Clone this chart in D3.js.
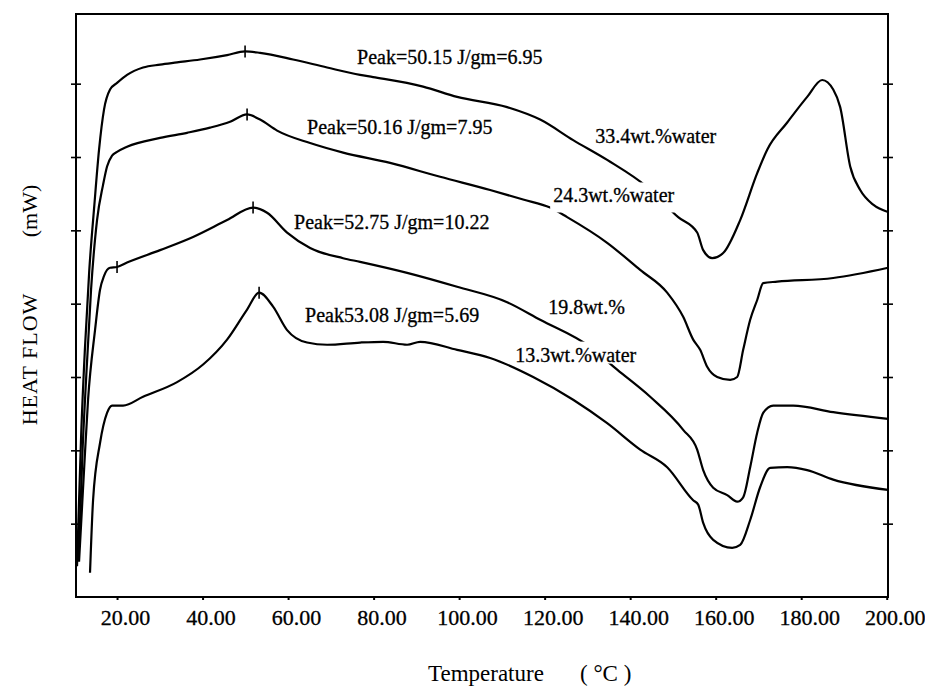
<!DOCTYPE html>
<html>
<head>
<meta charset="utf-8">
<script src="https://cdn.jsdelivr.net/npm/d3@7"></script>
<style>
  body { margin: 0; background: #fff; }
  text { font-family: "Liberation Serif", "Times New Roman", serif; fill: #000; }
</style>
</head>
<body>
<div id="chart"></div>
<script>
// DSC traces (heat flow in tick units, arbitrary)
var t33 = [10.64, 11.0, 11.6, 12.5, 13.5, 14.7, 15.79, 16.96, 18.36, 20.0, 22.34, 26.08, 30.06, 34.04, 39.42, 45.73, 49.94, 53.45, 61.17, 69.12, 76.84, 79.88, 91.58, 99.53, 111.23, 118.95, 126.67, 134.62, 143.98, 151.23, 155.67, 157.08, 159.18, 161.75, 165.73, 169.71, 172.05, 176.73, 181.40, 184.91, 187.49, 189.12, 191.46, 193.80, 196.84, 200.3];
var hf33 = [0.42, 1.10, 2.20, 3.40, 4.45, 5.35, 6.10, 6.65, 6.92, 7.01, 7.12, 7.22, 7.26, 7.29, 7.33, 7.39, 7.44, 7.42, 7.33, 7.22, 7.12, 7.09, 6.96, 6.82, 6.68, 6.51, 6.23, 5.96, 5.59, 5.18, 4.97, 4.73, 4.62, 4.69, 5.14, 5.78, 6.10, 6.47, 6.82, 7.05, 6.92, 6.68, 5.87, 5.55, 5.35, 5.25];

var t24 = [10.88, 11.35, 11.9, 12.75, 13.92, 15.32, 16.73, 17.66, 18.83, 20.0, 22.34, 30.06, 36.37, 41.75, 46.43, 50.41, 53.45, 57.43, 65.15, 72.87, 83.86, 95.56, 107.25, 114.97, 121.29, 125.26, 134.62, 142.34, 148.65, 152.40, 154.74, 156.37, 158.01, 160.35, 163.39, 165.03, 166.43, 168.07, 169.71, 171.11, 174.39, 187.49, 200.3];
var hf24 = [0.50, 1.05, 1.95, 2.96, 4.19, 5.14, 5.62, 5.87, 6.02, 6.07, 6.14, 6.26, 6.33, 6.40, 6.48, 6.58, 6.51, 6.36, 6.19, 6.06, 5.92, 5.73, 5.55, 5.42, 5.31, 5.18, 4.83, 4.46, 4.15, 3.82, 3.51, 3.37, 3.14, 3.00, 2.96, 3.00, 3.37, 3.78, 4.05, 4.28, 4.30, 4.35, 4.49];

var t19 = [11.11, 11.6, 12.3, 13.22, 14.85, 16.02, 16.96, 18.36, 20.0, 22.34, 30.06, 37.78, 45.73, 51.81, 55.09, 59.77, 65.15, 72.87, 76.84, 87.84, 99.53, 111.23, 118.95, 130.64, 136.96, 144.68, 152.40, 155.67, 157.08, 159.42, 162.69, 165.03, 166.43, 168.07, 169.71, 171.11, 173.45, 178.13, 187.49, 200.3];
var hf19 = [0.48, 1.00, 1.75, 2.69, 3.64, 4.19, 4.38, 4.49, 4.50, 4.56, 4.73, 4.91, 5.14, 5.31, 5.24, 4.97, 4.76, 4.62, 4.57, 4.42, 4.23, 4.02, 3.78, 3.41, 3.10, 2.73, 2.28, 2.01, 1.73, 1.49, 1.39, 1.30, 1.36, 1.77, 2.24, 2.51, 2.61, 2.61, 2.52, 2.43];

var t13 = [13.68, 14.39, 16.02, 17.66, 18.83, 21.40, 26.08, 34.04, 40.12, 45.73, 50.41, 53.22, 56.49, 59.77, 64.44, 69.12, 76.84, 82.22, 87.84, 90.88, 99.53, 107.25, 117.31, 126.67, 134.62, 142.34, 148.65, 154.74, 155.91, 157.08, 159.42, 163.86, 165.73, 168.07, 170.41, 172.75, 176.73, 181.40, 187.49, 200.3];
var hf13 = [0.33, 1.32, 2.10, 2.51, 2.61, 2.61, 2.73, 2.93, 3.17, 3.51, 3.92, 4.15, 3.96, 3.64, 3.47, 3.44, 3.47, 3.48, 3.44, 3.48, 3.37, 3.26, 3.00, 2.69, 2.37, 2.01, 1.77, 1.32, 1.26, 1.01, 0.78, 0.67, 0.71, 1.05, 1.50, 1.76, 1.77, 1.73, 1.60, 1.46];

// little "+" marks the instrument put on the peaks
var markT = [49.94, 50.41, 51.81, 20.0, 53.22];
var markHF = [7.44, 6.58, 5.31, 4.50, 4.15];

// annotations
var annoText = ["Peak=50.15 J/gm=6.95", "Peak=50.16 J/gm=7.95", "Peak=52.75 J/gm=10.22", "Peak53.08 J/gm=5.69",
                "33.4wt.%water", "24.3wt.%water", "19.8wt.%", "13.3wt.%water"];
var annoT = [76.14, 64.44, 61.40, 63.98, 131.81, 121.99, 120.82, 113.10];
var annoHF = [7.27, 6.32, 5.02, 3.75, 6.19, 5.38, 3.86, 3.21];
// how far below the baseline the white patch goes (-1 = no patch)
var annoMask = [-1, -1, -1, -1, -1, 10, -1, 2];

var xTicks = [20, 40, 60, 80, 100, 120, 140, 160, 180, 200];
var yTicks = [1, 2, 3, 4, 5, 6, 7];

var W = 925, H = 687;
var mLeft = 76, mRight = 888, mTop = 14, mBottom = 597;
var serif = '"Liberation Serif", "Times New Roman", serif';

var svg = d3.select("#chart").append("svg")
  .attr("width", W)
  .attr("height", H);

var x = d3.scaleLinear().domain([10.4, 200.3]).range([mLeft, mRight]);
var y = d3.scaleLinear().domain([0, 7.95]).range([mBottom, mTop]);

// bottom axis with labels
var xAxis = svg.append("g")
  .attr("transform", "translate(0," + mBottom + ")")
  .call(d3.axisBottom(x).tickValues(xTicks).tickFormat(d3.format(".2f")).tickSize(3).tickPadding(9));
xAxis.attr("font-family", null);
xAxis.select(".domain").remove();
xAxis.selectAll("line").attr("stroke-width", 2);
xAxis.selectAll("text")
  .style("font-family", serif)
  .attr("font-size", 22)
  .attr("dx", 8)
  .attr("stroke", "#000")
  .attr("stroke-width", 0.3);

// crossing ticks on left and right sides
function crossTicks(xpos) {
  [d3.axisLeft(y), d3.axisRight(y)].forEach(function (ax) {
    var g = svg.append("g")
      .attr("transform", "translate(" + xpos + ",0)")
      .call(ax.tickValues(yTicks).tickFormat("").tickSize(5));
    g.select(".domain").remove();
    g.selectAll("line").attr("stroke-width", 1.6);
  });
}
crossTicks(mLeft);
crossTicks(mRight);

// frame
svg.append("rect")
  .attr("x", mLeft)
  .attr("y", mTop)
  .attr("width", mRight - mLeft)
  .attr("height", mBottom - mTop)
  .attr("fill", "none")
  .attr("stroke", "#000")
  .attr("stroke-width", 2);

var line = d3.line()
  .x(function (d) { return x(d[0]); })
  .y(function (d) { return y(d[1]); })
  .curve(d3.curveMonotoneX);

var series = [[t33, hf33], [t24, hf24], [t19, hf19], [t13, hf13]];
series.forEach(function (s) {
  svg.append("path")
    .datum(d3.zip(s[0], s[1]))
    .attr("d", line)
    .attr("fill", "none")
    .attr("stroke", "#000")
    .attr("stroke-width", 2.2);
});

svg.selectAll(".mark")
  .data(d3.zip(markT, markHF))
  .enter()
  .append("line")
  .attr("class", "mark")
  .attr("x1", function (d) { return x(d[0]); })
  .attr("x2", function (d) { return x(d[0]); })
  .attr("y1", function (d) { return y(d[1]) - 6; })
  .attr("y2", function (d) { return y(d[1]) + 6; })
  .attr("stroke", "#000")
  .attr("stroke-width", 1.6);

// labels, two of them sit on a white patch that hides the curves under them
annoText.forEach(function (t, i) {
  var g = svg.append("g");
  var bx = x(annoT[i]), by = y(annoHF[i]);
  var txt = g.append("text")
    .attr("x", bx)
    .attr("y", by)
    .style("font-family", serif)
    .attr("font-size", 20)
    .attr("stroke", "#000")
    .attr("stroke-width", 0.3)
    .text(t);
  if (annoMask[i] >= 0) {
    var bb = txt.node().getBBox();
    g.insert("rect", "text")
      .attr("x", bb.x - 3)
      .attr("y", bb.y - 2)
      .attr("width", bb.width + 6)
      .attr("height", by + annoMask[i] - bb.y + 2)
      .attr("fill", "#fff");
  }
});

// axis titles
svg.append("text")
  .attr("x", 428)
  .attr("y", 681)
  .attr("font-size", 23)
  .text("Temperature");
svg.append("text")
  .attr("x", 580)
  .attr("y", 681)
  .attr("font-size", 23)
  .text("( \u00B0C )");

svg.append("text")
  .attr("transform", "translate(37,359) rotate(-90)")
  .attr("text-anchor", "middle")
  .attr("font-size", 22)
  .style("letter-spacing", "1px")
  .text("HEAT FLOW");
svg.append("text")
  .attr("transform", "translate(37,211) rotate(-90)")
  .attr("text-anchor", "middle")
  .attr("font-size", 22)
  .text("(mW)");
</script>
</body>
</html>
